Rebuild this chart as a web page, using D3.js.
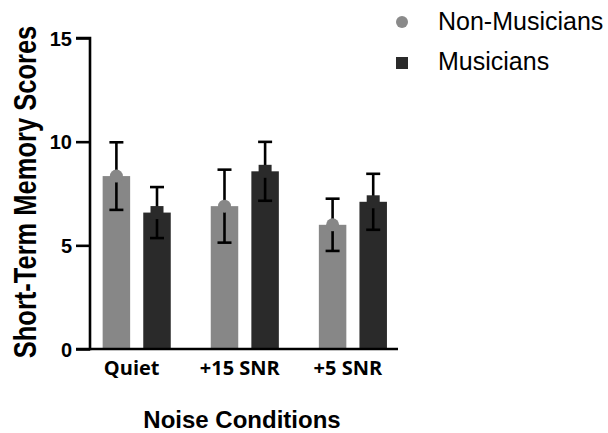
<html>
  <head>
    <meta charset="UTF-8">
    <style>
      body { margin: 0; background: white; }
      .tick-label { font-family: 'Liberation Sans', Arial, sans-serif; font-weight: bold; font-size: 20px; }
      .cat-label { font-family: 'Open Sans', sans-serif; font-weight: bold; font-size: 20px; }
      .title { font-family: 'Liberation Sans', Arial, sans-serif; font-weight: bold; font-size: 24px; }
      .legend { font-family: 'Liberation Sans', Arial, sans-serif; font-size: 25px; }
    </style>
  </head>
  <body>
    <script src="https://d3js.org/d3.v7.min.js"></script>
    <svg id="chart" width="608" height="433"></svg>
    <script>
      var conditions = ["Quiet", "+15 SNR", "+5 SNR"];
      var series = ["Non-Musicians", "Musicians"];
      var nonMusicians = [8.34, 6.89, 5.99];
      var nonMusiciansSD = [1.63, 1.76, 1.26];
      var musicians = [6.58, 8.57, 7.10];
      var musiciansSD = [1.23, 1.42, 1.35];
      var yTicks = [0, 5, 10, 15];

      var colors = {"Non-Musicians": "#878787", "Musicians": "#2a2a2a"};

      var svg = d3.select("#chart"),
          margin = {top: 38, left: 90},
          width = 308,
          height = 311,
          g = svg.append("g").attr("transform", "translate(" + margin.left + "," + margin.top + ")");

      var x0 = d3.scaleBand().domain(conditions).range([-7.4, 316.9]).paddingInner(0).paddingOuter(0),
          x1 = d3.scaleBand().domain(series).range([-34, 34.1]).paddingInner(0.323).paddingOuter(0),
          y = d3.scaleLinear().domain([0, 15]).range([height, 0]);

      var rows = [];
      conditions.forEach(function(c, i) {
        rows.push({cond: c, s: "Non-Musicians", v: nonMusicians[i], sd: nonMusiciansSD[i]});
        rows.push({cond: c, s: "Musicians", v: musicians[i], sd: musiciansSD[i]});
      });

      function cx(d) { return x0(d.cond) + x0.bandwidth() / 2 + x1(d.s) + x1.bandwidth() / 2; }

      /* bars */
      g.selectAll(".bar").data(rows).enter().append("rect")
        .attr("class", "bar")
        .attr("x", function(d) { return cx(d) - x1.bandwidth() / 2; })
        .attr("y", function(d) { return y(d.v); })
        .attr("width", x1.bandwidth())
        .attr("height", function(d) { return y(0) - y(d.v); })
        .style("fill", function(d) { return colors[d.s]; });

      /* error bars */
      var cap = 7;
      var err = g.selectAll(".err").data(rows).enter().append("g").attr("class", "err")
        .attr("stroke", "#000").attr("stroke-width", 2.6).attr("fill", "none");
      err.append("line")
        .attr("x1", cx).attr("x2", cx)
        .attr("y1", function(d) { return y(d.v + d.sd); })
        .attr("y2", function(d) { return y(d.v - d.sd); });
      err.append("line")
        .attr("x1", function(d) { return cx(d) - cap; }).attr("x2", function(d) { return cx(d) + cap; })
        .attr("y1", function(d) { return y(d.v + d.sd); }).attr("y2", function(d) { return y(d.v + d.sd); });
      err.append("line")
        .attr("x1", function(d) { return cx(d) - cap; }).attr("x2", function(d) { return cx(d) + cap; })
        .attr("y1", function(d) { return y(d.v - d.sd); }).attr("y2", function(d) { return y(d.v - d.sd); });

      /* mean markers */
      g.selectAll(".mk").data(rows).enter().append("path")
        .attr("class", "mk")
        .attr("transform", function(d) { return "translate(" + cx(d) + "," + y(d.v) + ")"; })
        .attr("d", function(d) {
          return d.s == "Non-Musicians"
            ? d3.symbol().type(d3.symbolCircle).size(Math.PI * 6.5 * 6.5)()
            : d3.symbol().type(d3.symbolSquare).size(13 * 13)();
        })
        .style("fill", function(d) { return colors[d.s]; });

      /* y axis */
      var yAxis = g.append("g")
        .call(d3.axisLeft(y).tickValues(yTicks).tickSize(14).tickPadding(4).tickFormat(d3.format("d")));
      yAxis.select(".domain").attr("stroke", "#000").attr("stroke-width", 2.6).attr("d", "M-14,0H0V" + height + "H-14");
      yAxis.selectAll(".tick line").attr("stroke", "#000").attr("stroke-width", 2.6);
      yAxis.selectAll(".tick text").attr("class", "tick-label").attr("fill", "#000").attr("dy", "0.36em");

      /* x axis */
      var xAxis = g.append("g")
        .attr("transform", "translate(0," + height + ")")
        .call(d3.axisBottom(x0).tickSize(0).tickPadding(12));
      xAxis.select(".domain").attr("stroke", "#000").attr("stroke-width", 2.6).attr("d", "M0,0H" + width);
      xAxis.selectAll(".tick text").attr("class", "cat-label").attr("fill", "#000").attr("dx", -5);

      /* titles */
      svg.append("text")
        .attr("class", "title")
        .attr("text-anchor", "middle")
        .style("font-size", "25.5px")
        .attr("transform", "translate(36,192) rotate(-90) scale(1,1.25)")
        .text("Short-Term Memory Scores");
      svg.append("text")
        .attr("class", "title")
        .attr("text-anchor", "middle")
        .attr("x", 242)
        .attr("y", 428)
        .text("Noise Conditions");

      /* legend */
      var legend = svg.append("g").attr("transform", "translate(402,22)");
      legend.append("circle").attr("cx", 0).attr("cy", 0).attr("r", 6).style("fill", "#8a8a8a");
      legend.append("rect").attr("x", -6).attr("y", 35).attr("width", 12).attr("height", 12).style("fill", colors["Musicians"]);
      legend.append("text").attr("class", "legend").attr("x", 36).attr("y", 8).text(series[0]);
      legend.append("text").attr("class", "legend").attr("x", 36).attr("y", 48).text(series[1]);
    </script>
  </body>
</html>
